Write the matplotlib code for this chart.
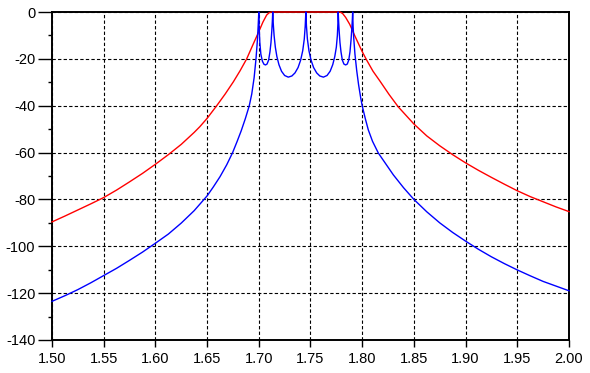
import matplotlib
matplotlib.use("Agg")
import matplotlib.pyplot as plt
from matplotlib.ticker import MultipleLocator, FormatStrFormatter

# frequenza (GHz) e risposta (dB)
freq_red = [1.500, 1.5125, 1.525, 1.5375, 1.550, 1.5625, 1.575, 1.5875, 1.600, 1.6125,
            1.625, 1.6375, 1.6431, 1.650, 1.6593, 1.6675, 1.6754, 1.682, 1.6883, 1.694,
            1.700, 1.704, 1.7076, 1.710, 1.7124,
            1.7785, 1.7810, 1.7840, 1.7880, 1.793, 1.800, 1.8043, 1.8105, 1.8172, 1.826,
            1.8349, 1.850, 1.8625, 1.875, 1.8875, 1.900, 1.9125, 1.925, 1.9375, 1.950,
            1.9625, 1.975, 1.9875, 2.000]
db_red = [-89.6, -87.1, -84.5, -81.9, -79.2, -76.0, -72.5, -68.9, -65.0, -60.9,
          -56.5, -51.4, -48.9, -45.4, -40.0, -35.0, -29.8, -25.0, -20.0, -14.3,
          -8.4, -4.3, -1.3, -0.3, 0.0,
          0.0, -0.6, -2.3, -5.3, -10.3, -16.9, -20.5, -25.3, -29.5, -35.2,
          -40.5, -47.8, -52.9, -57.1, -60.9, -64.4, -67.6, -70.6, -73.5, -76.3,
          -78.8, -81.0, -83.2, -85.2]

freq_blue = [1.500, 1.5125, 1.525, 1.5375, 1.550, 1.5625, 1.575, 1.5875, 1.600, 1.6125,
             1.625, 1.6375, 1.650, 1.656, 1.6625, 1.669, 1.6747, 1.679, 1.683, 1.687,
             1.6908, 1.6932, 1.6955, 1.6973, 1.6985, 1.6994,
             # picco 1 e avvallamento 1
             1.7000, 1.7004, 1.7010, 1.7020, 1.7035, 1.7050, 1.7065, 1.7080, 1.7095, 1.7108,
             1.7118, 1.7126, 1.7131,
             # picco 2 e avvallamento 2
             1.7135, 1.7140, 1.7148, 1.7160, 1.7175, 1.7195, 1.7220, 1.7250, 1.7285, 1.7320,
             1.7350, 1.7380, 1.7405, 1.7425, 1.7440, 1.7449,
             # picco 3 e avvallamento 3
             1.7455, 1.7461, 1.7470, 1.7485, 1.7505, 1.7530, 1.7560, 1.7590, 1.7625, 1.7660,
             1.7690, 1.7715, 1.7735, 1.7750, 1.7760, 1.7765,
             # picco 4 e avvallamento 4
             1.7768, 1.7772, 1.7777, 1.7785, 1.7795, 1.7808, 1.7823, 1.7840, 1.7856, 1.7870,
             1.7882, 1.7892, 1.7900, 1.7905,
             # picco 5 e fianco destro
             1.7908, 1.7912, 1.7918, 1.7930, 1.7947, 1.7965, 1.7985, 1.800, 1.803, 1.8059,
             1.810, 1.8156, 1.8301, 1.840, 1.850, 1.8625, 1.875, 1.8875, 1.900, 1.9125,
             1.925, 1.9375, 1.950, 1.9625, 1.975, 1.9875, 2.000]
db_blue = [-123.5, -121.1, -118.5, -115.6, -112.5, -109.4, -106.0, -102.5, -98.7, -94.8,
           -90.1, -84.8, -78.5, -74.7, -70.3, -65.2, -60.0, -55.3, -50.7, -45.5,
           -40.0, -35.0, -28.0, -20.0, -13.0, -6.0,
           0.0, -7.0, -13.0, -18.0, -21.0, -22.3, -22.6, -22.2, -20.5, -17.0,
           -13.0, -8.0, -4.0,
           0.0, -5.0, -10.0, -15.0, -19.0, -22.5, -25.3, -27.1, -27.8, -27.3,
           -26.0, -23.7, -20.5, -16.5, -11.5, -6.0,
           0.0, -6.0, -11.5, -16.5, -20.5, -23.7, -26.0, -27.3, -27.8, -27.1,
           -25.3, -22.5, -19.0, -15.0, -10.0, -5.0,
           0.0, -4.0, -8.0, -13.0, -17.0, -20.5, -22.2, -22.6, -22.2, -20.5,
           -17.0, -12.0, -7.0, -3.0,
           0.0, -6.0, -11.0, -18.0, -25.0, -31.0, -36.5, -40.0, -45.5, -50.3,
           -55.2, -60.2, -69.5, -75.0, -80.0, -85.3, -90.0, -94.1, -97.8, -101.3,
           -104.5, -107.4, -110.1, -112.6, -115.0, -117.0, -119.0]

plt.rcParams["font.family"] = ["Liberation Sans", "DejaVu Sans"]
plt.rcParams["axes.unicode_minus"] = False

fig = plt.figure(figsize=(5.9, 3.73), dpi=100)
ax = fig.add_axes([0.0881, 0.0885, 0.9644 - 0.0881, 0.9678 - 0.0885])

ax.plot(freq_red, db_red, color="#ff0000", linewidth=1.0, zorder=3, clip_on=False)
ax.plot(freq_blue, db_blue, color="#0000ff", linewidth=1.0, zorder=3, clip_on=False)

ax.set_xlim(1.50, 2.00)
ax.set_ylim(-140, 0)
ax.xaxis.set_major_locator(MultipleLocator(0.05))
ax.xaxis.set_major_formatter(FormatStrFormatter("%.2f"))
ax.yaxis.set_major_locator(MultipleLocator(20))
ax.yaxis.set_minor_locator(MultipleLocator(10))

ax.grid(True, which="major", color="black", linestyle=(0, (3, 2)), linewidth=0.8)
ax.tick_params(axis="x", which="major", direction="out", length=5, width=1, pad=4, labelsize=10.5)
ax.tick_params(axis="y", which="major", direction="out", length=10, width=1, pad=2, labelsize=10.5)
ax.tick_params(axis="y", which="minor", direction="out", length=3, width=1)
for s in ax.spines.values():
    s.set_linewidth(1.4)

fig.savefig("out.png", dpi=100)
